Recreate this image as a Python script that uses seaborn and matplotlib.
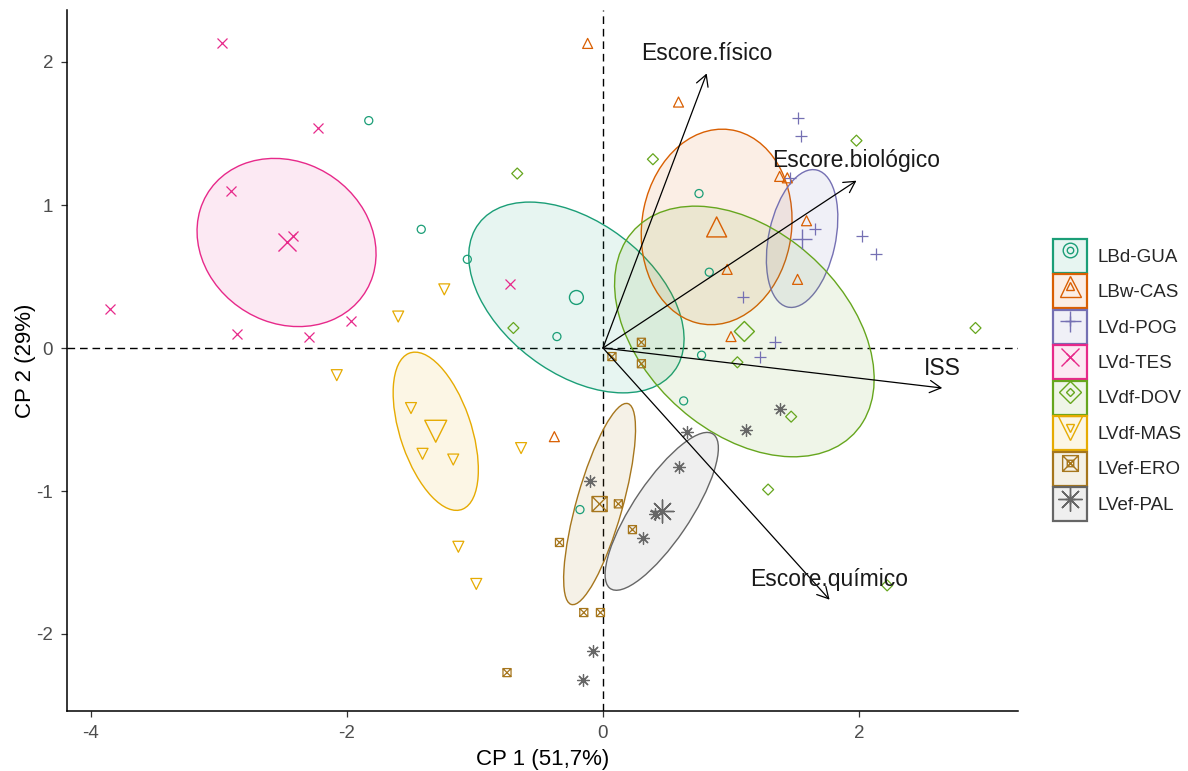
import numpy as np
import pandas as pd
import matplotlib
matplotlib.use("Agg")
import matplotlib.pyplot as plt
import seaborn as sns
from matplotlib.patches import Ellipse, Patch
from matplotlib.lines import Line2D
from matplotlib.path import Path
from matplotlib.markers import MarkerStyle
from matplotlib.colors import to_rgba

# ---- individuals (scores on the first two principal components) ----
groups = ["LBd-GUA", "LBw-CAS", "LVd-POG", "LVd-TES",
          "LVdf-DOV", "LVdf-MAS", "LVef-ERO", "LVef-PAL"]
palette = ["#1B9E77", "#D95F02", "#7570B3", "#E7298A",
           "#66A61E", "#E6AB02", "#A6761D", "#666666"]

gua_pc1 = [-1.83, -1.42, -1.06, -0.36, 0.75, 0.83, 0.77, 0.63, -0.18]
gua_pc2 = [1.59, 0.83, 0.62, 0.08, 1.08, 0.53, -0.05, -0.37, -1.13]
cas_pc1 = [-0.12, 0.59, 1.38, 1.44, 1.59, 0.97, 1.52, 1.00, -0.38]
cas_pc2 = [2.13, 1.72, 1.20, 1.19, 0.89, 0.55, 0.48, 0.08, -0.62]
pog_pc1 = [1.52, 1.55, 1.46, 1.66, 2.02, 2.13, 1.09, 1.34, 1.23]
pog_pc2 = [1.61, 1.48, 1.19, 0.83, 0.78, 0.66, 0.36, 0.04, -0.06]
tes_pc1 = [-2.98, -2.23, -2.91, -2.42, -3.85, -2.86, -2.30, -1.97, -0.73]
tes_pc2 = [2.13, 1.54, 1.10, 0.78, 0.27, 0.10, 0.08, 0.19, 0.45]
dov_pc1 = [1.98, 0.39, -0.67, -0.70, 1.05, 2.91, 1.47, 1.29, 2.22]
dov_pc2 = [1.45, 1.32, 1.22, 0.14, -0.10, 0.14, -0.48, -0.99, -1.66]
mas_pc1 = [-1.24, -1.60, -2.08, -1.50, -1.41, -1.17, -1.13, -0.99, -0.64]
mas_pc2 = [0.41, 0.22, -0.19, -0.42, -0.74, -0.78, -1.39, -1.65, -0.70]
ero_pc1 = [0.30, 0.07, 0.30, 0.12, 0.23, -0.34, -0.15, -0.02, -0.75]
ero_pc2 = [0.04, -0.06, -0.11, -1.09, -1.27, -1.36, -1.85, -1.85, -2.27]
pal_pc1 = [1.38, 1.12, 0.66, 0.59, 0.41, 0.31, -0.10, -0.08, -0.16]
pal_pc2 = [-0.43, -0.57, -0.59, -0.83, -1.16, -1.33, -0.93, -2.12, -2.32]

# ---- variables (loadings drawn as arrows) ----
var_names = ["Escore.físico", "Escore.biológico", "ISS", "Escore.químico"]
var_pc1 = [0.81, 1.98, 2.65, 1.77]
var_pc2 = [1.92, 1.17, -0.28, -1.76]

x_label = "CP 1 (51,7%)"
y_label = "CP 2 (29%)"
x_ticks = [-4, -2, 0, 2]
y_ticks = [-2, -1, 0, 1, 2]

pc1_cols = [gua_pc1, cas_pc1, pog_pc1, tes_pc1, dov_pc1, mas_pc1, ero_pc1, pal_pc1]
pc2_cols = [gua_pc2, cas_pc2, pog_pc2, tes_pc2, dov_pc2, mas_pc2, ero_pc2, pal_pc2]
df = pd.concat(
    [pd.DataFrame({"PC1": a, "PC2": b, "grupo": g})
     for g, a, b in zip(groups, pc1_cols, pc2_cols)],
    ignore_index=True,
)

# boxed cross marker (square with both diagonals)
box_x = Path(
    [(-0.5, -0.5), (0.5, -0.5), (0.5, 0.5), (-0.5, 0.5), (-0.5, -0.5),
     (-0.5, -0.5), (0.5, 0.5), (-0.5, 0.5), (0.5, -0.5)],
    [Path.MOVETO, Path.LINETO, Path.LINETO, Path.LINETO, Path.CLOSEPOLY,
     Path.MOVETO, Path.LINETO, Path.MOVETO, Path.LINETO],
)
markers = ["o", "^", "+", "x", "D", "v", box_x, (8, 2, 0)]
# marker diameters in points: (individual points, group mean)
msizes = [(5.8, 10.0), (7.2, 14.4), (8.6, 14.4), (7.2, 13.0),
          (5.6, 10.2), (7.9, 15.8), (5.8, 10.8), (8.6, 16.5)]

sns.set_theme(style="white")
plt.rcParams["font.family"] = ["Liberation Sans", "DejaVu Sans"]
plt.rcParams["axes.unicode_minus"] = False

fig = plt.figure(figsize=(11.88, 7.71), dpi=100)
ax = fig.add_axes([67 / 1188, 1 - 711 / 771, (1018 - 67) / 1188, (711 - 10) / 771])

ax.axhline(0, color="black", lw=1.0, ls=(0, (5.5, 3.5)), zorder=1)
ax.axvline(0, color="black", lw=1.0, ls=(0, (5.5, 3.5)), zorder=1)

k = np.sqrt(-2 * np.log(1 - 0.95))  # 95% chi-square radius, 2 df


def marker_kws(m, c):
    if MarkerStyle(m).is_filled():
        return dict(facecolor="none", edgecolor=c)
    return dict(color=c)


handles = []
for g, c, m, (s_small, s_big) in zip(groups, palette, markers, msizes):
    sub = df[df["grupo"] == g]
    pts = sub[["PC1", "PC2"]].to_numpy()
    n = len(pts)
    centre = pts.mean(axis=0)
    cov = np.cov(pts, rowvar=False) / n
    vals, vecs = np.linalg.eigh(cov)
    order = vals.argsort()[::-1]
    vals, vecs = vals[order], vecs[:, order]
    angle = np.degrees(np.arctan2(vecs[1, 0], vecs[0, 0]))
    ax.add_patch(Ellipse(centre, 2 * k * np.sqrt(vals[0]), 2 * k * np.sqrt(vals[1]),
                         angle=angle, facecolor=to_rgba(c, 0.1), edgecolor=c,
                         lw=1.0, zorder=2))

    sns.scatterplot(data=sub, x="PC1", y="PC2", ax=ax, marker=m, s=s_small ** 2,
                    linewidth=0.9, legend=False, zorder=3, **marker_kws(m, c))
    cdf = pd.DataFrame({"PC1": [centre[0]], "PC2": [centre[1]]})
    sns.scatterplot(data=cdf, x="PC1", y="PC2", ax=ax, marker=m, s=s_big ** 2,
                    linewidth=1.0, legend=False, zorder=3, **marker_kws(m, c))

    filled = MarkerStyle(m).is_filled()
    lk = dict(ls="none", marker=m, color=c, mec=c, mfc="none" if filled else c, mew=1.0)
    handles.append((
        Patch(facecolor=to_rgba(c, 0.1), edgecolor=c, lw=1.6),
        Line2D([], [], ms=s_small * 0.8, **lk),
        Line2D([], [], ms=s_big * 1.05, **lk),
    ))

for name, vx, vy in zip(var_names, var_pc1, var_pc2):
    ax.annotate("", xy=(vx, vy), xytext=(0, 0), zorder=4,
                arrowprops=dict(arrowstyle="->,head_length=0.4,head_width=0.22",
                                color="black", lw=0.9, shrinkA=0, shrinkB=0,
                                mutation_scale=20))
    ax.annotate(name, xy=(vx, vy), xytext=(0, 9.5), textcoords="offset points",
                ha="center", va="baseline", fontsize=16.5, color="#1a1a1a", zorder=5)

ax.set_xlim((67 - 603) / 128, (1018 - 603) / 128)
ax.set_ylim((348 - 711) / 143, (348 - 10) / 143)
ax.set_xticks(x_ticks)
ax.set_yticks(y_ticks)
ax.set_xlabel(x_label, fontsize=16, color="black", labelpad=5)
ax.set_ylabel(y_label, fontsize=16, color="black", labelpad=0)
ax.tick_params(axis="both", which="both", direction="out", length=4, width=0.9,
               color="#333333", labelcolor="#4D4D4D", labelsize=13.5, pad=6,
               bottom=True, left=True)
sns.despine(ax=ax)
for sp in ("left", "bottom"):
    ax.spines[sp].set_color("black")
    ax.spines[sp].set_linewidth(1.1)
ax.grid(False)

fig.legend(handles, groups, loc="center left",
           bbox_to_anchor=(1053 / 1188, 1 - 380 / 771), bbox_transform=fig.transFigure,
           frameon=False, fontsize=13.5, handlelength=1.8, handleheight=2.41,
           labelspacing=0.08, handletextpad=0.55, borderpad=0, borderaxespad=0)

fig.savefig("out.png", dpi=100)
